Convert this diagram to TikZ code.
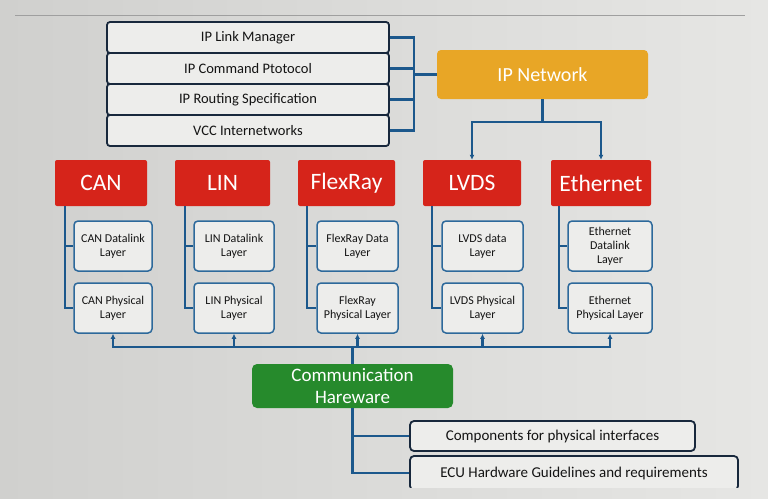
\documentclass[tikz,border=0pt]{standalone}
\usepackage{fontspec}
\setmainfont{Carlito}
\usetikzlibrary{arrows.meta}
\definecolor{bgL}{RGB}{208,208,206}
\definecolor{bgR}{RGB}{230,230,228}
\definecolor{linkblue}{RGB}{28,88,140}
\definecolor{navy}{RGB}{24,40,60}
\definecolor{subblue}{RGB}{45,105,155}
\definecolor{boxfill}{RGB}{237,237,235}
\definecolor{redbox}{RGB}{214,36,26}
\definecolor{goldbox}{RGB}{232,166,38}
\definecolor{greenbox}{RGB}{38,138,44}
\definecolor{txt}{RGB}{20,20,20}
\begin{document}
\begin{tikzpicture}[x=1pt,y=-1pt,
  ipbox/.style={draw=navy,line width=1.8pt,fill=boxfill,rounded corners=3pt,
    minimum width=282pt,minimum height=31pt,inner sep=0pt,
    font=\fontsize{14.5}{17}\selectfont,text=txt},
  hwbox/.style={draw=navy,line width=1.8pt,fill=boxfill,rounded corners=4pt,
    minimum height=30pt,inner sep=0pt,font=\fontsize{15}{17}\selectfont,text=txt},
  redtitle/.style={fill=redbox,rounded corners=2pt,minimum height=46pt,inner sep=0pt,
    text=white,font=\fontsize{23.5}{26}\selectfont},
  sublayer/.style={draw=subblue,line width=1.5pt,fill=boxfill,rounded corners=4pt,
    minimum height=50pt,inner sep=1pt,align=center,text=txt,
    font=\fontsize{12}{14}\selectfont},
  link/.style={draw=linkblue,line width=2.4pt},
  arr/.style={link,-{Latex[length=5pt,width=5pt]}}
]
\useasboundingbox (0,0) rectangle (768,498);
\shade[left color=bgL,right color=bgR] (0,0) rectangle (768,498);
\draw[gray!75,line width=0.8pt] (15,15) -- (745,15);

% IP stack
\node[ipbox] (ip1) at (248,37.5) {IP Link Manager};
\node[ipbox] (ip2) at (248,68.5) {IP Command Ptotocol};
\node[ipbox] (ip3) at (248,99.5) {IP Routing Specification};
\node[ipbox] (ip4) at (248,130.5) {VCC Internetworks};

\node[fill=goldbox,rounded corners=4pt,minimum width=211pt,minimum height=49pt,
  inner sep=0pt,text=white,font=\fontsize{20}{23}\selectfont] (ipnet) at (542.5,74.5) {IP Network};

\draw[link] (ip1.east) -- ++(24,0) |- (ip4.east);
\draw[link] (ip2.east) -- ++(24,0);
\draw[link] (ip3.east) -- ++(24,0);
\draw[link] (ipnet.west) -- ++(-24,0);

% bus titles
\node[redtitle,minimum width=92pt] (can) at (101,183) {CAN};
\node[redtitle,minimum width=95pt] (lin) at (222.5,183) {LIN};
\node[redtitle,minimum width=97pt] (flex) at (346.5,183) {FlexRay};
\node[redtitle,minimum width=98pt] (lvds) at (472,183) {LVDS};
\node[redtitle,minimum width=100pt] (eth) at (601,183) {Ethernet};

\draw[arr] (ipnet.south) -- ++(0,23) -| (lvds.north);
\draw[arr] (ipnet.south) -- ++(0,23) -| (eth.north);

% layers
\node[sublayer,minimum width=78pt] (canD) at (113,246) {CAN Datalink\\Layer};
\node[sublayer,minimum width=78pt] (canP) at (113,308) {CAN Physical\\Layer};
\node[sublayer,minimum width=80pt] (linD) at (234,246) {LIN Datalink\\Layer};
\node[sublayer,minimum width=80pt] (linP) at (234,308) {LIN Physical\\Layer};
\node[sublayer,minimum width=81pt] (flexD) at (357.5,246) {FlexRay Data\\Layer};
\node[sublayer,minimum width=81pt] (flexP) at (357.5,308) {FlexRay\\Physical Layer};
\node[sublayer,minimum width=81pt] (lvdsD) at (482.5,246) {LVDS data\\Layer};
\node[sublayer,minimum width=81pt] (lvdsP) at (482.5,308) {LVDS Physical\\Layer};
\node[sublayer,minimum width=84pt] (ethD) at (610,246) {Ethernet\\Datalink\\Layer};
\node[sublayer,minimum width=84pt] (ethP) at (610,308) {Ethernet\\Physical Layer};

\draw[link] ([xshift=10pt]can.south west) |- (canP.west);
\draw[link] ([xshift=10pt]can.south west) |- (canD.west);
\draw[link] ([xshift=10pt]lin.south west) |- (linP.west);
\draw[link] ([xshift=10pt]lin.south west) |- (linD.west);
\draw[link] ([xshift=9pt]flex.south west) |- (flexP.west);
\draw[link] ([xshift=9pt]flex.south west) |- (flexD.west);
\draw[link] ([xshift=9pt]lvds.south west) |- (lvdsP.west);
\draw[link] ([xshift=9pt]lvds.south west) |- (lvdsD.west);
\draw[link] ([xshift=8pt]eth.south west) |- (ethP.west);
\draw[link] ([xshift=8pt]eth.south west) |- (ethD.west);

% communication hardware
\node[fill=greenbox,rounded corners=5pt,minimum width=201pt,minimum height=44pt,
  inner sep=0pt,align=center,text=white,font=\fontsize{19}{22}\selectfont]
  (comm) at (352.5,386) {Communication\\Hareware};

\draw[arr] (comm.north) -- ++(0,-17) -| (canP.south);
\draw[arr] (comm.north) -- ++(0,-17) -| (linP.south);
\draw[arr] (comm.north) -- ++(0,-17) -| (flexP.south);
\draw[arr] (comm.north) -- ++(0,-17) -| (lvdsP.south);
\draw[arr] (comm.north) -- ++(0,-17) -| (ethP.south);

\node[hwbox,minimum width=285pt] (comp) at (552.5,436) {Components for physical interfaces};
\begin{scope}
\clip (0,0) rectangle (768,487);
\node[hwbox,minimum width=328pt,minimum height=34pt] (ecu) at (574,473) {ECU Hardware Guidelines and requirements};
\end{scope}

\draw[link] (comm.south) |- (comp.west);
\draw[link] (comm.south) |- (ecu.west);
\end{tikzpicture}
\end{document}
